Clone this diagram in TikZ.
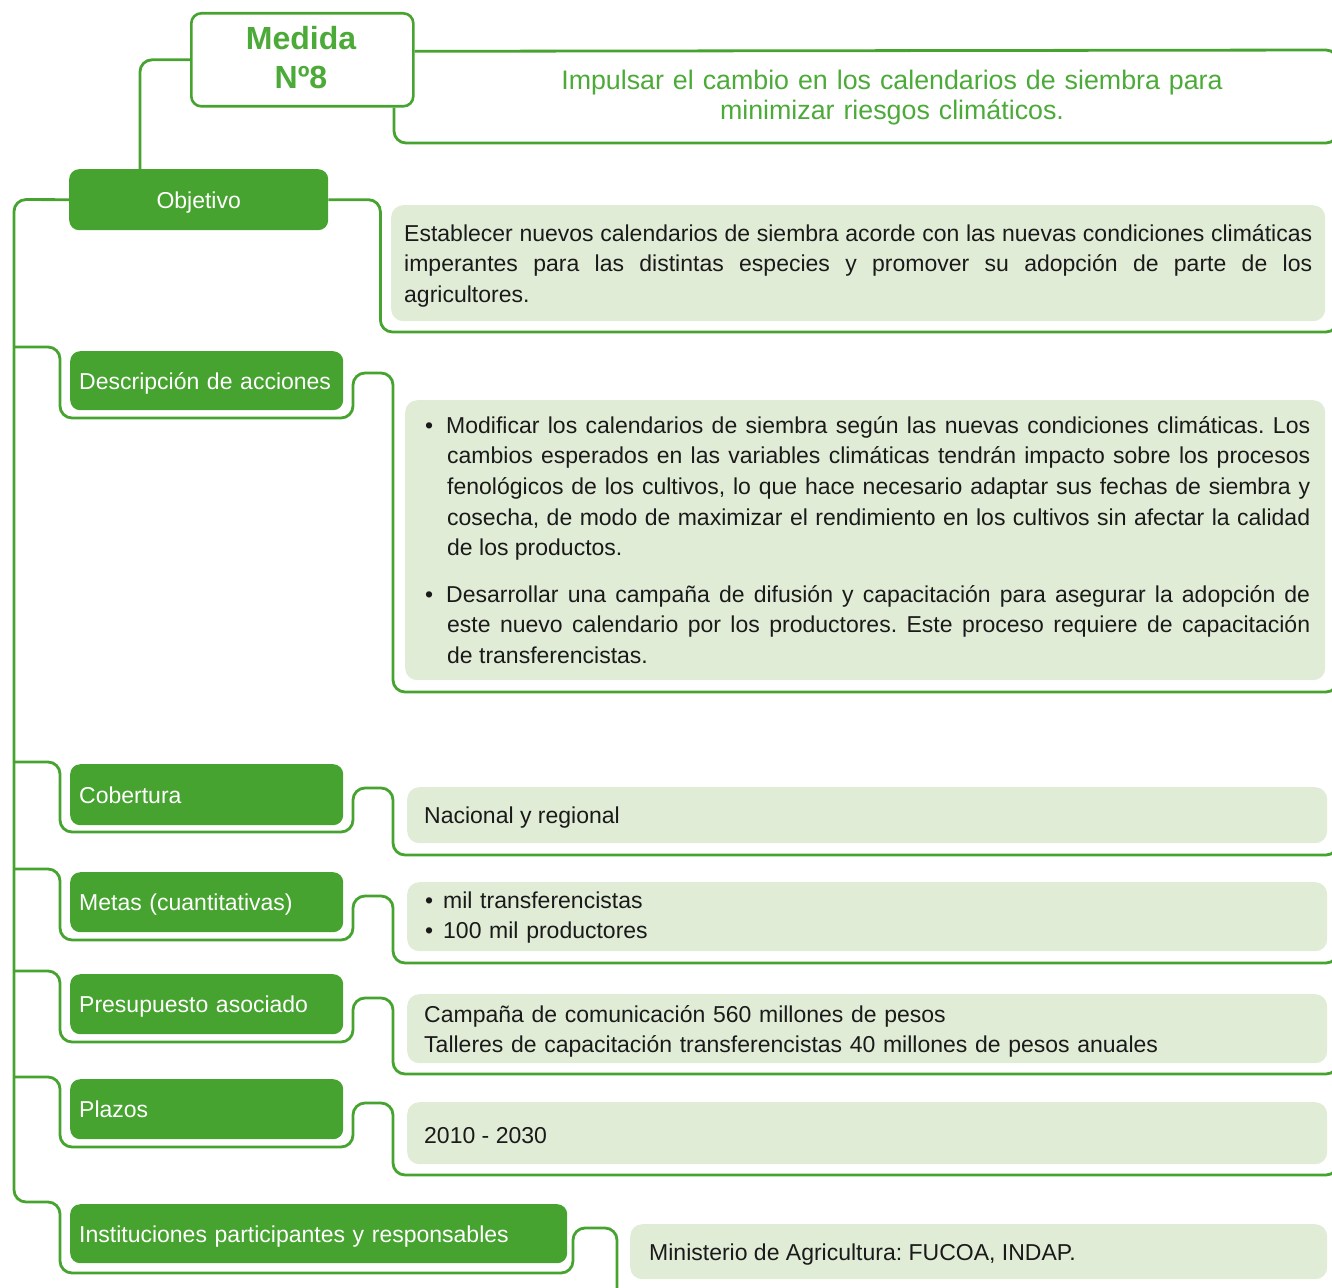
\documentclass[tikz,border=0pt]{standalone}
\usepackage{fontspec}
\setmainfont{Liberation Sans}
\usetikzlibrary{calc}
\pgfdeclarelayer{background}
\pgfsetlayers{background,main}
\definecolor{gr}{RGB}{70,163,47}
\definecolor{lg}{RGB}{225,236,215}
\definecolor{tg}{RGB}{76,170,56}
\definecolor{tx}{RGB}{26,26,26}
\begin{document}
\frenchspacing
\begin{tikzpicture}[x=1pt,y=-1pt,
  conn/.style={draw=gr,line width=2.8pt,rounded corners=12pt},
  headbox/.style={draw=gr,line width=2.6pt,fill=white,rounded corners=10pt,anchor=north west,inner sep=0pt},
  lab/.style={anchor=north west,fill=gr,rounded corners=10pt,inner xsep=9pt,inner ysep=0pt,
    text=white,font=\fontsize{23}{28}\selectfont,text height=22pt,text depth=5pt,align=left},
  cbox/.style={fill=lg,rounded corners=12pt,anchor=north west,inner sep=0pt},
  body/.style={inner sep=0pt,text=tx,font=\fontsize{23}{30.7}\selectfont},
]
\path[use as bounding box] (0,0) rectangle (1332,1287);
\clip (0,0) rectangle (1332,1287);

% ---------- label boxes ----------
\node[headbox,minimum width=222pt,minimum height=93pt] (medida) at (190,12) {};
\node[lab,text width=241pt,align=center,minimum height=61pt] (obj) at (69,169) {Objetivo};
\node[lab,text width=255pt,minimum height=59pt] (desc) at (70,351) {Descripción de acciones};
\node[lab,text width=255pt,minimum height=61pt] (cob) at (70,764) {Cobertura};
\node[lab,text width=255pt,minimum height=60pt] (metas) at (70,872) {Metas (cuantitativas)};
\node[lab,text width=255pt,minimum height=60pt] (pres) at (70,974) {Presupuesto asociado};
\node[lab,text width=255pt,minimum height=60pt] (plaz) at (70,1079) {Plazos};
\node[lab,text width=479pt,minimum height=59pt] (inst) at (70,1204) {Instituciones participantes y responsables};

% ---------- content boxes ----------
\node[cbox,minimum width=934pt,minimum height=116pt] (objC) at (391,205) {};
\node[cbox,minimum width=920pt,minimum height=280pt] (descC) at (405,400) {};
\node[cbox,minimum width=920pt,minimum height=56pt] (cobC) at (407,787) {};
\node[cbox,minimum width=920pt,minimum height=69pt] (metC) at (407,882) {};
\node[cbox,minimum width=920pt,minimum height=69pt] (presC) at (407,994) {};
\node[cbox,minimum width=920pt,minimum height=62pt] (plazC) at (407,1102) {};
\node[cbox,minimum width=697pt,minimum height=55pt] (instC) at (630,1224) {};

% ---------- connectors (behind) ----------
\begin{pgfonlayer}{background}
\coordinate (objTop) at ($(obj.north west)+(71,0)$);
\draw[conn] (medida.west) -| (objTop);
\coordinate (tTopR) at (1338,110);
\coordinate (tBotR) at (1338,90);
\draw[conn] ([yshift=8.5pt]medida.east) -- (tTopR |- 0,50) -- (tTopR);
\draw[conn] ([xshift=204pt]medida.south west) |- (tBotR |- 0,143) -- (tBotR);
\coordinate (oR) at (1338,280);
\draw[conn] (obj.east) -- ++(52,0) |- (oR |- 0,332) -- (oR);
\coordinate (iEnd) at (617,1320);
\draw[conn] (obj.west) -- (14,199.5) -- (14,1202) -- (60,1202) -- (60,1273) -- (573,1273) -- (573,1228) -- (iEnd |- 0,1228) -- (iEnd);
\coordinate (dR) at (1338,640);
\draw[conn] (14,347) -- (60,347) -- (60,418) -- (353,418) -- (353,373) -- (393,373) -- (393,692) -- (dR |- 0,692) -- (dR);
\coordinate (cR) at (1338,800);
\draw[conn] (14,762) -- (60,762) -- (60,832) -- (353,832) -- (353,788) -- (393,788) -- (393,855) -- (cR |- 0,855) -- (cR);
\coordinate (mR) at (1338,910);
\draw[conn] (14,869) -- (60,869) -- (60,940) -- (353,940) -- (353,896) -- (393,896) -- (393,963) -- (mR |- 0,963) -- (mR);
\coordinate (pR) at (1338,1020);
\draw[conn] (14,971) -- (60,971) -- (60,1042) -- (353,1042) -- (353,998) -- (393,998) -- (393,1074) -- (pR |- 0,1074) -- (pR);
\coordinate (zR) at (1338,1120);
\draw[conn] (14,1077) -- (60,1077) -- (60,1147) -- (353,1147) -- (353,1103) -- (393,1103) -- (393,1175) -- (zR |- 0,1175) -- (zR);
\end{pgfonlayer}

% ---------- texts ----------
\node[anchor=north,text width=220pt,align=center,inner sep=0pt,text=tg,
  font=\bfseries\fontsize{32}{39}\selectfont] (medidaT) at (301,21.7) {\strut Medida\\Nº8};
\node[anchor=north,text width=900pt,align=center,inner sep=0pt,text=tg,
  font=\fontsize{26.8}{30}\selectfont] (title) at (892,68) {\strut Impulsar el cambio en los calendarios de siembra para\\minimizar riesgos climáticos.};

\node[body,anchor=north west,text width=908pt,align=justify] (objT) at (404,219.5)
 {\noindent\strut Establecer nuevos calendarios de siembra acorde con las nuevas condiciones climáticas\linebreak imperantes para las distintas especies y promover su adopción de parte de los\linebreak agricultores.\par};

\node[body,anchor=north west,text width=885pt,align=justify] (descT1) at (425,411.5)
 {\hangindent=22pt\hangafter=1\noindent\strut\makebox[21pt][l]{•}Modificar los calendarios de siembra según las nuevas condiciones climáticas. Los\linebreak cambios esperados en las variables climáticas tendrán impacto sobre los procesos\linebreak fenológicos de los cultivos, lo que hace necesario adaptar sus fechas de siembra y\linebreak cosecha, de modo de maximizar el rendimiento en los cultivos sin afectar la calidad\linebreak de los productos.\par};
\node[body,anchor=north west,text width=885pt,align=justify] (descT2) at (425,580.5)
 {\hangindent=22pt\hangafter=1\noindent\strut\makebox[21pt][l]{•}Desarrollar una campaña de difusión y capacitación para asegurar la adopción de\linebreak este nuevo calendario por los productores. Este proceso requiere de capacitación\linebreak de transferencistas.\par};

\node[body,anchor=base west] (cobT) at (424,823) {Nacional y regional};
\node[body,anchor=north west,text width=800pt,align=left,font=\fontsize{23}{30}\selectfont] (metT) at (425,887)
 {\strut\makebox[18pt][l]{•}mil transferencistas\\\makebox[18pt][l]{•}100 mil productores};
\node[body,anchor=north west,text width=900pt,align=left,font=\fontsize{23}{30}\selectfont] (presT) at (424,1001)
 {\strut Campaña de comunicación 560 millones de pesos\\Talleres de capacitación transferencistas 40 millones de pesos anuales};
\node[body,anchor=base west] (plazT) at (424,1143) {2010 - 2030};
\node[body,anchor=base west] (instT) at (649,1260) {Ministerio de Agricultura: FUCOA, INDAP.};
\end{tikzpicture}
\end{document}
